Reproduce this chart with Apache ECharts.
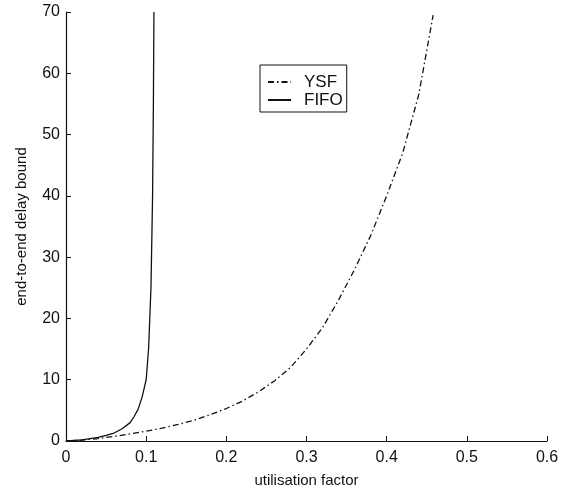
<!DOCTYPE html>
<html>
<head>
<meta charset="utf-8">
<script src="https://cdn.jsdelivr.net/npm/echarts@6/dist/echarts.min.js"></script>
<style>
  html, body { margin: 0; padding: 0; background: #fff; }
  #chart { width: 567px; height: 493px; }
</style>
</head>
<body>
<div id="chart"></div>
<script>
// utilisation factor values
const ysfX = [0, 0.02, 0.04, 0.06, 0.08, 0.1, 0.12, 0.14, 0.16, 0.18, 0.2, 0.22, 0.24, 0.26, 0.28, 0.3, 0.32, 0.34, 0.36, 0.38, 0.4, 0.42, 0.44, 0.458];
const ysfY = [0, 0.15, 0.4, 0.75, 1.15, 1.6, 2.1, 2.7, 3.4, 4.3, 5.3, 6.5, 8.0, 9.8, 12.0, 15.0, 18.5, 23.0, 28.0, 33.5, 40, 47, 56.5, 69.5];

const fifoX = [0, 0.02, 0.04, 0.05, 0.06, 0.07, 0.08, 0.085, 0.09, 0.095, 0.1, 0.103, 0.106, 0.108, 0.109, 0.1097];
const fifoY = [0, 0.2, 0.6, 0.9, 1.3, 2.0, 3.0, 4.0, 5.2, 7.2, 10, 15, 25, 40, 55, 70];

const xTicks = [0, 0.1, 0.2, 0.3, 0.4, 0.5, 0.6];
const yTicks = [0, 10, 20, 30, 40, 50, 60, 70];

const pairs = (xs, ys) => xs.map((x, i) => [x, ys[i]]);

const chart = echarts.init(document.getElementById('chart'));

const font = 'Liberation Sans, Arial, Helvetica, sans-serif';
const ink = '#111';

chart.setOption({
  animation: false,
  backgroundColor: '#fff',
  grid: { left: 66, right: 20, top: 12, bottom: 51 },
  legend: {
    orient: 'vertical',
    left: 260,
    top: 65,
    padding: [8, 4, 3, 7],
    itemGap: 0,
    itemWidth: 23,
    itemHeight: 10,
    borderColor: ink,
    borderWidth: 1,
    borderRadius: 0,
    backgroundColor: '#fff',
    itemStyle: { opacity: 0, borderWidth: 0 },
    textStyle: { fontFamily: font, fontSize: 17, color: ink, lineHeight: 18, padding: [0, 0, 0, 8] },
    data: ['YSF', 'FIFO']
  },
  xAxis: {
    type: 'value',
    min: xTicks[0],
    max: xTicks[xTicks.length - 1],
    interval: 0.1,
    name: 'utilisation factor',
    nameLocation: 'middle',
    nameGap: 32,
    nameTextStyle: { fontFamily: font, fontSize: 15, color: ink },
    axisLine: { lineStyle: { color: ink, width: 1.2 } },
    axisTick: { inside: true, length: 5, lineStyle: { color: ink } },
    axisLabel: { fontFamily: font, fontSize: 16, color: ink, margin: 9 },
    splitLine: { show: false }
  },
  yAxis: {
    type: 'value',
    min: yTicks[0],
    max: yTicks[yTicks.length - 1],
    interval: 10,
    name: 'end-to-end delay bound',
    nameLocation: 'middle',
    nameGap: 37,
    nameTextStyle: { fontFamily: font, fontSize: 15, color: ink },
    axisLine: { lineStyle: { color: ink, width: 1.2 } },
    axisTick: { inside: true, length: 5, lineStyle: { color: ink } },
    axisLabel: { fontFamily: font, fontSize: 16, color: ink, margin: 6 },
    splitLine: { show: false }
  },
  series: [
    {
      name: 'YSF',
      type: 'line',
      symbol: 'none',
      smooth: false,
      data: pairs(ysfX, ysfY),
      lineStyle: { color: ink, width: 1.3, type: [6, 3, 1.5, 3] },
      itemStyle: { color: ink }
    },
    {
      name: 'FIFO',
      type: 'line',
      symbol: 'none',
      smooth: false,
      data: pairs(fifoX, fifoY),
      lineStyle: { color: ink, width: 1.3 },
      itemStyle: { color: ink }
    }
  ]
});
</script>
</body>
</html>
